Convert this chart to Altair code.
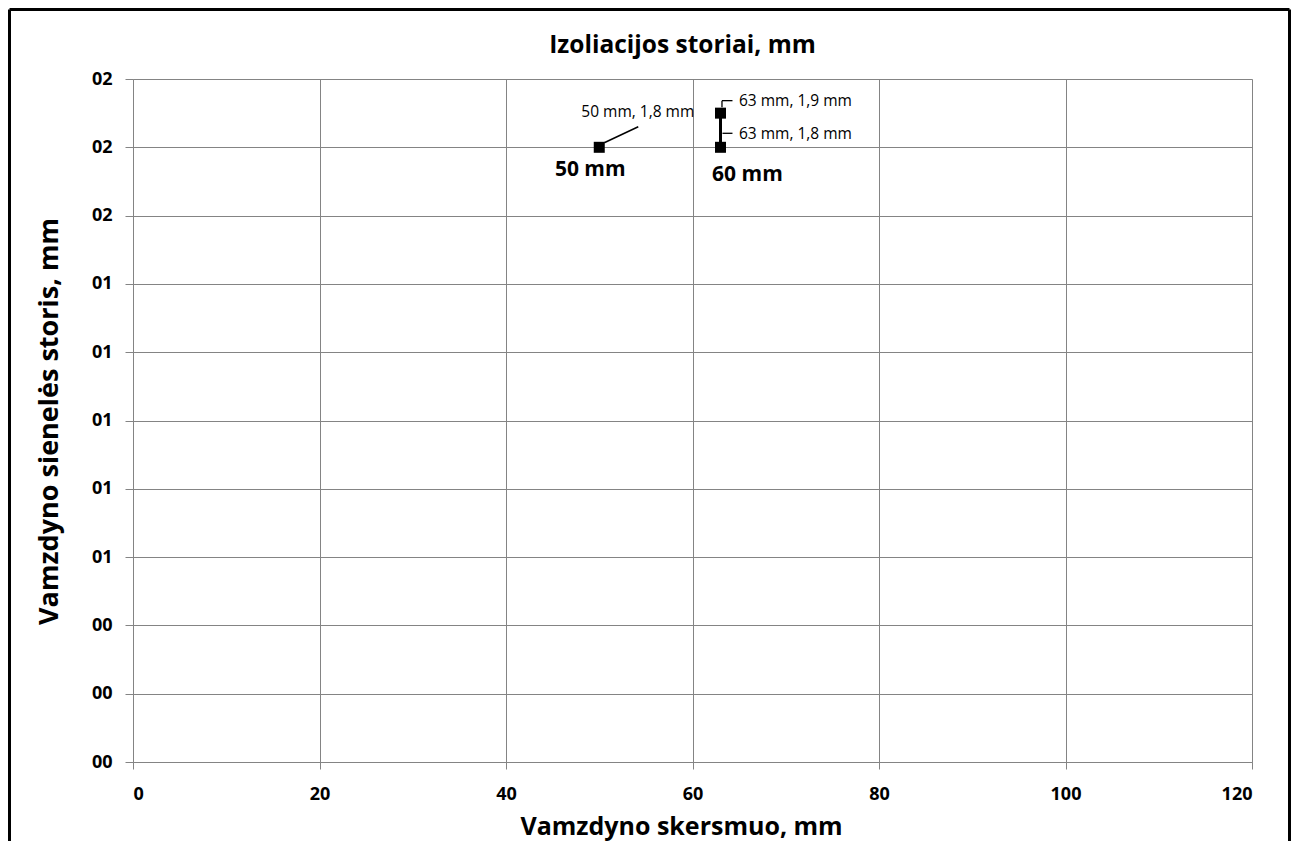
import altair as alt
import pandas as pd

# Data
series = ["50 mm", "60 mm", "60 mm"]
diameter = [50, 63, 63]
wall = [1.8, 1.8, 1.9]
point_labels = ["50 mm, 1,8 mm", "63 mm, 1,8 mm", "63 mm, 1,9 mm"]

x_ticks = [0, 20, 40, 60, 80, 100, 120]
y_ticks = [0, 0.2, 0.4, 0.6, 0.8, 1.0, 1.2, 1.4, 1.6, 1.8, 2.0]
chart_title = "Izoliacijos storiai, mm"
x_title = "Vamzdyno skersmuo, mm"
y_title = "Vamzdyno sienelės storis, mm"

df = pd.DataFrame({"series": series, "d": diameter, "t": wall, "lab": point_labels})

FONT = "Open Sans"
GRID = "#848484"

xs = alt.X("d:Q", scale=alt.Scale(domain=[0, 120], nice=False),
           axis=alt.Axis(values=x_ticks, title=x_title, format="d",
                         labelFontSize=18, labelFontWeight="bold", labelColor="#000",
                         labelPadding=16, tickSize=7, tickColor=GRID,
                         domainColor=GRID, gridColor=GRID, titleFontSize=25,
                         titleFontWeight="bold", titleColor="#000",
                         titleX=548, titleY=72, titleBaseline="alphabetic",
                         titleAlign="center", labelFont=FONT, titleFont=FONT))
ys = alt.Y("t:Q", scale=alt.Scale(domain=[0, 2.0], nice=False),
           axis=alt.Axis(values=y_ticks, title=y_title, format="02.0f",
                         labelFontSize=18, labelFontWeight="bold", labelColor="#000",
                         labelPadding=13, tickSize=8, tickColor=GRID,
                         domainColor=GRID, gridColor=GRID, titleFontSize=27,
                         titleFontWeight="bold", titleColor="#000",
                         titleX=-76, titleY=342, titleAngle=270, titleBaseline="alphabetic",
                         titleAlign="center", labelFont=FONT, titleFont=FONT))

base = alt.Chart(df)

line = base.mark_line(color="black", strokeWidth=3).encode(x=xs, y=ys, detail="series:N")
pts = base.mark_square(color="black", size=121, opacity=1).encode(x=xs, y=ys)

p50 = base.transform_filter("datum.d == 50")
p63a = base.transform_filter("datum.d == 63 && datum.t == 1.8")
p63b = base.transform_filter("datum.d == 63 && datum.t == 1.9")

lead50 = p50.mark_rule(color="black", strokeWidth=1.5, xOffset=5, yOffset=-4.5,
                       x2Offset=39, y2Offset=-20.5).encode(x=xs, y=ys, x2="d:Q", y2="t:Q")
lab50 = p50.mark_text(font=FONT, fontSize=15.5, color="black", baseline="middle",
                      dx=38.5, dy=-35).encode(x=xs, y=ys, text="lab:N")
ser50 = p50.mark_text(font=FONT, fontSize=21, fontWeight="bold", color="black",
                      baseline="middle", dx=-9, dy=23).encode(x=xs, y=ys, text="series:N")

lead63b_v = p63b.mark_rule(color="black", strokeWidth=1.3, xOffset=1.5, yOffset=-6,
                           x2Offset=1.5, y2Offset=-12.5).encode(x=xs, y=ys, x2="d:Q", y2="t:Q")
lead63b_h = p63b.mark_rule(color="black", strokeWidth=1.3, xOffset=1.5, yOffset=-12.5,
                           x2Offset=12, y2Offset=-12.5).encode(x=xs, y=ys, x2="d:Q", y2="t:Q")
lab63b = p63b.mark_text(font=FONT, fontSize=15.5, color="black", align="left",
                        baseline="middle", dx=18.5, dy=-12).encode(x=xs, y=ys, text="lab:N")

lead63a_h = p63a.mark_rule(color="black", strokeWidth=1.3, xOffset=2, yOffset=-14,
                           x2Offset=12, y2Offset=-14).encode(x=xs, y=ys, x2="d:Q", y2="t:Q")
lab63a = p63a.mark_text(font=FONT, fontSize=15.5, color="black", align="left",
                        baseline="middle", dx=18.5, dy=-13).encode(x=xs, y=ys, text="lab:N")
ser60 = p63a.mark_text(font=FONT, fontSize=21, fontWeight="bold", color="black",
                       baseline="middle", dx=27, dy=27.5).encode(x=xs, y=ys, text="series:N")

# Chart title and frame around the whole picture
one = alt.Chart(pd.DataFrame({"title": [chart_title]}))
title_txt = one.mark_text(font=FONT, fontSize=24.5, fontWeight="bold", color="black",
                          align="center", baseline="alphabetic").encode(
    x=alt.value(549.5), y=alt.value(-26), text="title:N")
frame_left = one.mark_rule(color="black", strokeWidth=3).encode(
    x=alt.value(-123.5), y=alt.value(-69.5), y2=alt.value(762))
frame_right = one.mark_rule(color="black", strokeWidth=3).encode(
    x=alt.value(1156.5), y=alt.value(-69.5), y2=alt.value(762))
frame_top = one.mark_rule(color="black", strokeWidth=3).encode(
    x=alt.value(-123.5), x2=alt.value(1156.5), y=alt.value(-69.5))

chart = alt.layer(
    line, pts, lead50, lab50, ser50, lead63b_v, lead63b_h, lab63b, lead63a_h, lab63a, ser60,
    title_txt, frame_left, frame_right, frame_top
).properties(
    width=1119, height=683,
    autosize=alt.AutoSizeParams(type="none"),
    padding={"left": 125, "top": 71, "right": 39, "bottom": 79},
).configure_view(stroke=None).configure(background="white")

chart.save("out.html", embed_options={"renderer": "svg", "actions": False})
